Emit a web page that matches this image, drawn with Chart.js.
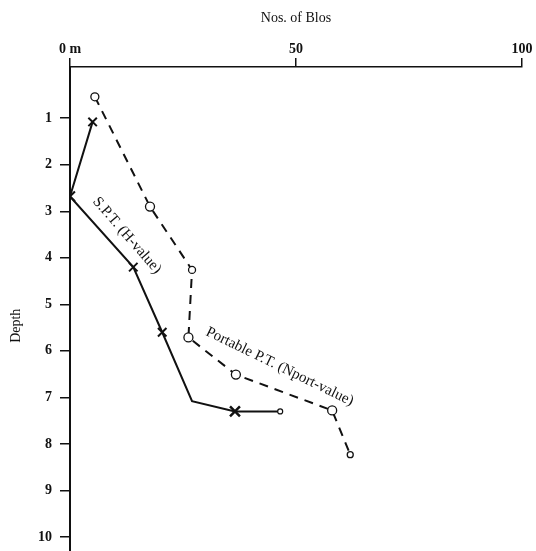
<!DOCTYPE html>
<html>
<head>
<meta charset="utf-8">
<script src="https://cdn.jsdelivr.net/npm/chart.js@4.4.1/dist/chart.umd.min.js"></script>
<style>
  html, body { margin: 0; padding: 0; background: #fff; }
  #wrap { width: 536px; height: 551px; }
</style>
</head>
<body>
<div id="wrap"><canvas id="depthChart"></canvas></div>
<script>
// blow counts against depth (m)
const sptBlows = [5, 0, 14, 20.4, 27, 36.5, 46.5];
const sptDepth = [1.08, 2.68, 4.2, 5.6, 7.08, 7.3, 7.3];

const portBlows = [5.5, 17.7, 27, 26.2, 36.7, 58, 62];
const portDepth = [0.54, 2.9, 4.26, 5.71, 6.51, 7.28, 8.23];

const xTickValues = [0, 50, 100];
const yTickValues = [1, 2, 3, 4, 5, 6, 7, 8, 9, 10];

const serif = '"Liberation Serif", "DejaVu Serif", serif';

function toPoints(xs, ys) {
  return xs.map((x, i) => ({ x: x, y: ys[i] }));
}

// rotated curve labels and the depth title, anchored in data units
const curveLabels = {
  id: 'curveLabels',
  afterDatasetsDraw(chart) {
    const ctx = chart.ctx;
    const xs = chart.scales.x, ys = chart.scales.y;
    const items = [
      { text: 'S.P.T. (H-value)', x: 12.6, y: 3.52, angle: 49 },
      { text: 'Portable P.T. (Nport-value)', x: 46.4, y: 6.34, angle: 26 }
    ];
    ctx.save();
    ctx.fillStyle = '#111';
    ctx.font = '15px ' + serif;
    ctx.textAlign = 'center';
    ctx.textBaseline = 'middle';
    items.forEach(it => {
      ctx.save();
      ctx.translate(xs.getPixelForValue(it.x), ys.getPixelForValue(it.y));
      ctx.rotate(it.angle * Math.PI / 180);
      ctx.fillText(it.text, 0, 0);
      ctx.restore();
    });

    // axis title sits a little below the middle of the depth axis
    ctx.font = '14px ' + serif;
    ctx.translate(16, ys.getPixelForValue(5.46));
    ctx.rotate(-Math.PI / 2);
    ctx.fillText('Depth', 0, 0);
    ctx.restore();
  }
};

const ctx = document.getElementById('depthChart').getContext('2d');
new Chart(ctx, {
  type: 'scatter',
  data: {
    datasets: [
      {
        label: 'S.P.T. (H-value)',
        data: toPoints(sptBlows, sptDepth),
        showLine: true,
        borderColor: '#111',
        borderWidth: 2,
        pointStyle: ['crossRot', 'crossRot', 'crossRot', 'crossRot', 'circle', 'crossRot', 'circle'],
        pointRadius: [6, 7, 6, 6, 0, 7, 2.5],
        pointBorderWidth: [2, 2, 2, 2, 1, 2.5, 1.2],
        pointBorderColor: '#111',
        pointBackgroundColor: '#fff'
      },
      {
        label: 'Portable P.T. (Nport-value)',
        data: toPoints(portBlows, portDepth),
        showLine: true,
        borderColor: '#111',
        borderWidth: 2,
        borderDash: [9, 7],
        pointStyle: 'circle',
        pointRadius: [4, 4.5, 3.5, 4.5, 4.5, 4.5, 3],
        pointBorderWidth: 1.3,
        pointBorderColor: '#111',
        pointBackgroundColor: '#fff'
      }
    ]
  },
  options: {
    responsive: true,
    maintainAspectRatio: false,
    animation: false,
    layout: { autoPadding: false, padding: { left: 0, right: 14, top: 0, bottom: 0 } },
    plugins: {
      legend: { display: false },
      tooltip: { enabled: false }
    },
    scales: {
      x: {
        type: 'linear',
        position: 'top',
        min: 0,
        max: 100,
        afterBuildTicks: s => { s.ticks = xTickValues.map(v => ({ value: v })); },
        afterFit: s => { s.height = 67; },
        ticks: {
          color: '#111',
          padding: 0,
          font: { family: serif, size: 14, weight: 'bold' },
          callback: v => v === 0 ? '0 m' : String(v)
        },
        grid: { drawOnChartArea: false, drawTicks: true, tickLength: 9, color: '#111', lineWidth: 1.5 },
        border: { display: true, color: '#111', width: 1.5 },
        title: {
          display: true,
          text: 'Nos. of Blos',
          color: '#111',
          font: { family: serif, size: 14 },
          padding: { top: 10, bottom: 0 }
        }
      },
      y: {
        type: 'linear',
        reverse: true,
        min: -0.1,
        max: 10.3,
        afterBuildTicks: s => { s.ticks = yTickValues.map(v => ({ value: v })); },
        afterFit: s => {
          s.width = 70;
          s.paddingTop = 0;
          s.paddingBottom = 0;
        },
        ticks: {
          color: '#111',
          padding: 8,
          font: { family: serif, size: 14, weight: 'bold' }
        },
        grid: { drawOnChartArea: false, drawTicks: true, tickLength: 10, color: '#111', lineWidth: 1.5 },
        border: { display: true, color: '#111', width: 2 },
        title: { display: false }
      }
    }
  },
  plugins: [curveLabels]
});
</script>
</body>
</html>
